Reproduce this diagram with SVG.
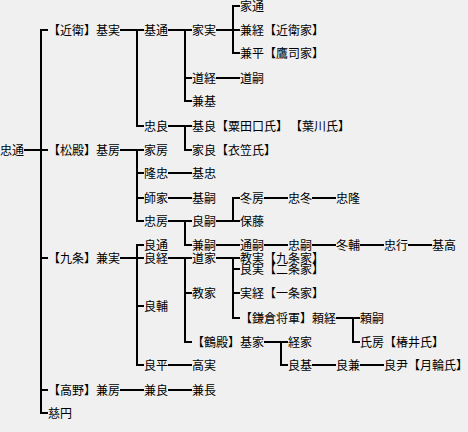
<svg xmlns="http://www.w3.org/2000/svg" width="468" height="432" viewBox="0 0 468 432">
<style>
text{font-family:"Noto Sans CJK JP","Noto Sans CJK SC",sans-serif;font-size:12px;fill:#000}
.c{fill:none;stroke:#000;stroke-width:2}
</style>
<rect width="468" height="432" fill="#f0f0f0"/>
<g id="connectors" class="c">
<path d="M24,150H48M41,29V414M41,30H48M41,258H48M41,390H48M41,413H48"/>
<path d="M120,30H144M137,29V127M137,126H144"/>
<path d="M168,30H192M185,29V102M185,78H192M185,101H192"/>
<path d="M216,30H240M233,5V54M233,6H240M233,53H240"/>
<path d="M216,78H240"/>
<path d="M168,126H192M185,125V151M185,150H192"/>
<path d="M120,150H144M137,149V222M137,173H144M137,198H144M137,221H144"/>
<path d="M168,173H192M168,198H192"/>
<path d="M168,221H192M185,220V246M185,245H192"/>
<path d="M216,221H240M233,197V222M233,198H240"/>
<path d="M264,198H288M312,198H336"/>
<path d="M216,245H240M264,245H288M312,245H336M360,245H384M408,245H432"/>
<path d="M120,258H144M137,244V366M137,245H144M137,306H144M137,365H144"/>
<path d="M168,258H192M185,257V343M185,293H192M185,342H192"/>
<path d="M216,258H240M233,257V319M233,269H240M233,293H240M233,318H240"/>
<path d="M336,318H360M353,317V343M353,342H360"/>
<path d="M264,342H288M281,341V366M281,365H288"/>
<path d="M312,365H336M360,365H384"/>
<path d="M168,365H192"/>
<path d="M120,390H144M168,390H192"/>
</g>
<g id="n-tadamichi"><text x="0" y="154.5">忠通</text></g>
<g id="n-motozane"><text x="48" y="34.5">【近衛】基実</text></g>
<g id="n-motofusa"><text x="48" y="154.5">【松殿】基房</text></g>
<g id="n-kanezane"><text x="48" y="262.5">【九条】兼実</text></g>
<g id="n-kanefusa"><text x="48" y="394.5">【高野】兼房</text></g>
<g id="n-jien"><text x="48" y="417.5">慈円</text></g>
<g id="n-motomichi"><text x="144" y="34.5">基通</text></g>
<g id="n-tadayoshi"><text x="144" y="130.5">忠良</text></g>
<g id="n-iefusa"><text x="144" y="154.5">家房</text></g>
<g id="n-takatada"><text x="144" y="177.5">隆忠</text></g>
<g id="n-moroie"><text x="144" y="202.5">師家</text></g>
<g id="n-tadafusa"><text x="144" y="225.5">忠房</text></g>
<g id="n-yoshimichi"><text x="144" y="249.5">良通</text></g>
<g id="n-yoshitsune"><text x="144" y="262.5">良経</text></g>
<g id="n-yoshisuke"><text x="144" y="310.5">良輔</text></g>
<g id="n-yoshihira"><text x="144" y="369.5">良平</text></g>
<g id="n-kaneyoshi"><text x="144" y="394.5">兼良</text></g>
<g id="n-iezane"><text x="192" y="34.5">家実</text></g>
<g id="n-michitsune"><text x="192" y="82.5">道経</text></g>
<g id="n-kanemoto"><text x="192" y="105.5">兼基</text></g>
<g id="n-motoyoshi"><text x="192" y="130.5">基良【粟田口氏】</text><text x="290" y="130.5">【葉川氏】</text></g>
<g id="n-ieyoshi"><text x="192" y="154.5">家良【衣笠氏】</text></g>
<g id="n-mototada"><text x="192" y="177.5">基忠</text></g>
<g id="n-mototsugu"><text x="192" y="202.5">基嗣</text></g>
<g id="n-yoshitsugu"><text x="192" y="225.5">良嗣</text></g>
<g id="n-kanetsugu"><text x="192" y="249.5">兼嗣</text></g>
<g id="n-michiie"><text x="192" y="262.5">道家</text></g>
<g id="n-noriie"><text x="192" y="297.5">教家</text></g>
<g id="n-motoie"><text x="192" y="346.5">【鶴殿】基家</text></g>
<g id="n-takazane"><text x="192" y="369.5">高実</text></g>
<g id="n-kanenaga"><text x="192" y="394.5">兼長</text></g>
<g id="n-iemichi"><text x="240" y="10.5">家通</text></g>
<g id="n-kanetsune"><text x="240" y="34.5">兼経【近衛家】</text></g>
<g id="n-kanehira"><text x="240" y="57.5">兼平【鷹司家】</text></g>
<g id="n-michitsugu"><text x="240" y="82.5">道嗣</text></g>
<g id="n-fuyufusa"><text x="240" y="202.5">冬房</text></g>
<g id="n-yasufuji"><text x="240" y="225.5">保藤</text></g>
<g id="n-michitsugu2"><text x="240" y="249.5">通嗣</text></g>
<g id="n-norizane"><text x="240" y="262.5">教実【九条家】</text></g>
<g id="n-yoshizane"><text x="240" y="273.5">良実【二条家】</text></g>
<g id="n-sanetsune"><text x="240" y="297.5">実経【一条家】</text></g>
<g id="n-yoritsune"><text x="240" y="322.5">【鎌倉将軍】頼経</text></g>
<g id="n-tadafuyu"><text x="288" y="202.5">忠冬</text></g>
<g id="n-tadataka"><text x="336" y="202.5">忠隆</text></g>
<g id="n-tadatsugu"><text x="288" y="249.5">忠嗣</text></g>
<g id="n-fuyusuke"><text x="336" y="249.5">冬輔</text></g>
<g id="n-tadayuki"><text x="384" y="249.5">忠行</text></g>
<g id="n-mototaka"><text x="432" y="249.5">基高</text></g>
<g id="n-yoritsugu"><text x="360" y="322.5">頼嗣</text></g>
<g id="n-ujifusa"><text x="360" y="346.5">氏房【椿井氏】</text></g>
<g id="n-tsuneie"><text x="288" y="346.5">経家</text></g>
<g id="n-yoshimoto"><text x="288" y="369.5">良基</text></g>
<g id="n-yoshikane"><text x="336" y="369.5">良兼</text></g>
<g id="n-yoshitada"><text x="384" y="369.5">良尹【月輪氏】</text></g>
</svg>
